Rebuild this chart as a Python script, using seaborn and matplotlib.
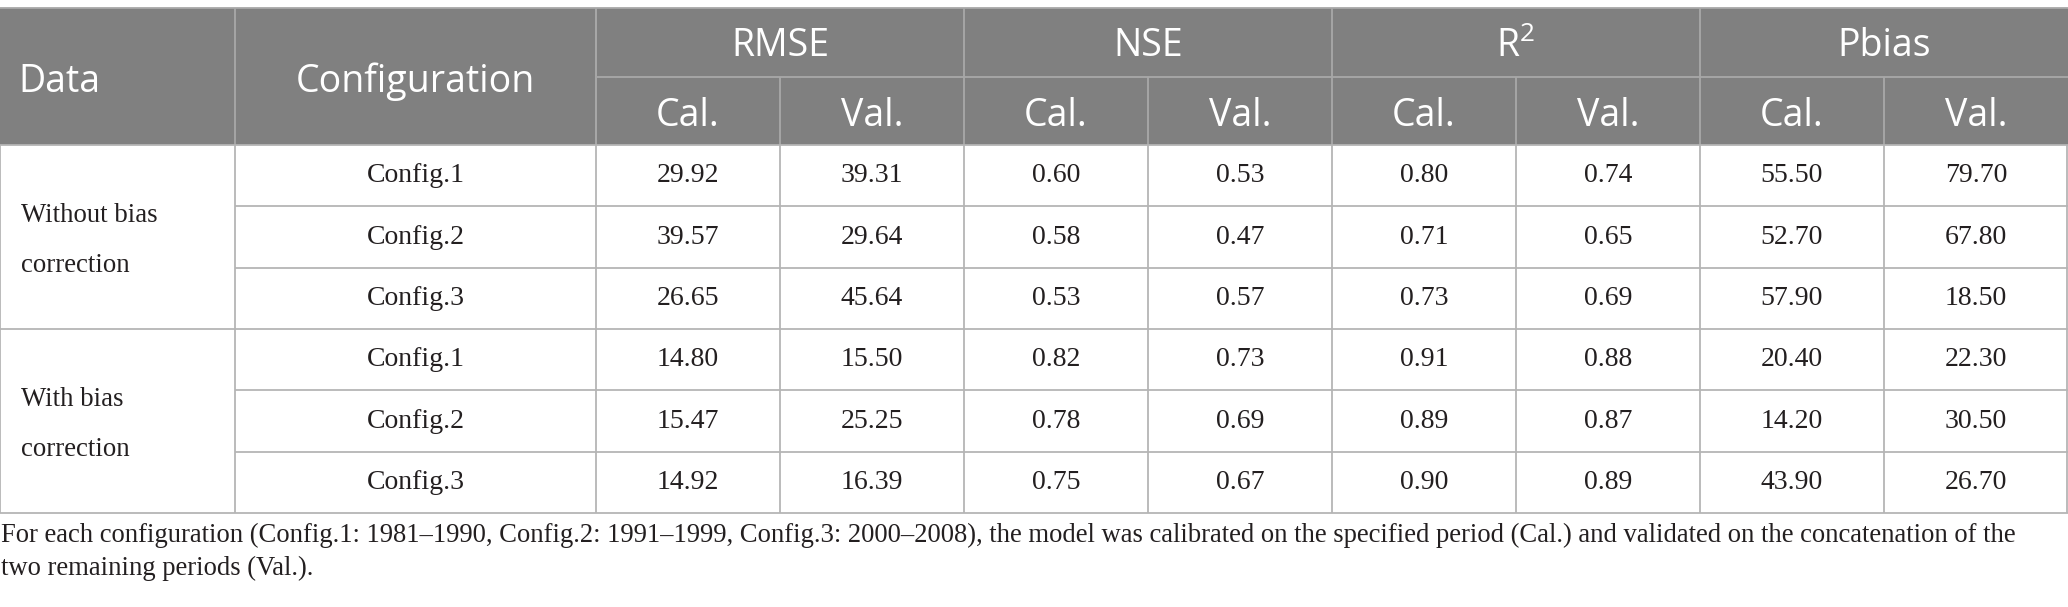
import matplotlib
matplotlib.use('Agg')
import matplotlib.pyplot as plt
from matplotlib.colors import ListedColormap
from matplotlib.patches import Rectangle
import seaborn as sns
import pandas as pd
import numpy as np

# table content
data_groups = ['Without bias\ncorrection', 'With bias\ncorrection']
configs = ['Config.1', 'Config.2', 'Config.3']
metrics = ['RMSE', 'NSE', 'R$^{\\mathrm{2}}$', 'Pbias']
periods = ['Cal.', 'Val.']

rmse_cal = [29.92, 39.57, 26.65, 14.80, 15.47, 14.92]
rmse_val = [39.31, 29.64, 45.64, 15.50, 25.25, 16.39]
nse_cal = [0.60, 0.58, 0.53, 0.82, 0.78, 0.75]
nse_val = [0.53, 0.47, 0.57, 0.73, 0.69, 0.67]
r2_cal = [0.80, 0.71, 0.73, 0.91, 0.89, 0.90]
r2_val = [0.74, 0.65, 0.69, 0.88, 0.87, 0.89]
pbias_cal = [55.50, 52.70, 57.90, 20.40, 14.20, 43.90]
pbias_val = [79.70, 67.80, 18.50, 22.30, 30.50, 26.70]

caption = ('For each configuration (Config.1: 1981\u20131990, Config.2: 1991\u20131999, '
           'Config.3: 2000\u20132008), the model was calibrated on the specified period (Cal.) '
           'and validated on the concatenation of the\ntwo remaining periods (Val.).')


def set_style():
    sns.set_theme(style='white')
    plt.rcParams.update({
        'mathtext.fontset': 'custom',
        'mathtext.rm': 'Open Sans',
        'mathtext.it': 'Open Sans',
    })


set_style()

cols = pd.MultiIndex.from_product([[0, 1, 2, 3], periods])
df = pd.DataFrame(np.column_stack([rmse_cal, rmse_val, nse_cal, nse_val,
                                   r2_cal, r2_val, pbias_cal, pbias_val]),
                  columns=cols)
annot = df.map(lambda v: '%.2f' % v).values

# layout (pixels)
W, H = 2068, 607
x_conf, x_metric = 235, 596
metric_w = (W - x_metric) / 8
y_top, y_mid, y_head = 8, 77, 145
row_h = (513 - y_head) / 6
y_bot = y_head + 6 * row_h

head_bg = '#808080'
head_line = '#a8a8a8'
body_line = '#b5b5b5'
ink = '#231f20'
serif = 'Liberation Serif'
sans = 'Open Sans'

fig = plt.figure(figsize=(W / 100, H / 100), dpi=100)

# numeric block through seaborn heatmap
hm = fig.add_axes([x_metric / W, 1 - y_bot / H, 8 * metric_w / W, 6 * row_h / H])
sns.heatmap(np.zeros(df.shape), ax=hm, cmap=ListedColormap(['white']), cbar=False,
            annot=annot, fmt='', linewidths=0, xticklabels=False, yticklabels=False,
            annot_kws={'family': serif, 'size': 20, 'color': ink})

ax = fig.add_axes([0, 0, 1, 1])
ax.set_zorder(2)
ax.patch.set_alpha(0)
ax.set_xlim(0, W)
ax.set_ylim(H, 0)
ax.axis('off')

lw = 1.3
def hline(y, x0, x1, c):
    ax.plot([x0, x1], [y, y], color=c, lw=lw, solid_capstyle='butt')

def vline(x, y0, y1, c):
    ax.plot([x, x], [y0, y1], color=c, lw=lw, solid_capstyle='butt')

# header
ax.add_patch(Rectangle((0, y_top), W, y_head - y_top, fc=head_bg, ec='none'))
hline(y_top, 0, W, head_line)
hline(y_mid, x_metric, W, head_line)
for x in [x_conf, x_metric]:
    vline(x, y_top, y_head, head_line)
for k in range(8):
    x = x_metric + k * metric_w
    if k % 2 == 0:
        vline(x, y_top, y_head, head_line)
    else:
        vline(x, y_mid, y_head, head_line)

hkw = dict(family=sans, size=27, color='white')
ax.text(18, (y_top + y_head) / 2 + 5, 'Data', ha='left', va='center', **hkw)
ax.text((x_conf + x_metric) / 2, (y_top + y_head) / 2 + 5, 'Configuration',
        ha='center', va='center', **hkw)
for i, m in enumerate(metrics):
    ax.text(x_metric + (2 * i + 1) * metric_w, (y_top + y_mid) / 2 + 4, m,
            ha='center', va='center', **hkw)
    for j, p in enumerate(periods):
        ax.text(x_metric + (2 * i + j + 0.5) * metric_w, (y_mid + y_head) / 2 + 5, p,
                ha='center', va='center', **hkw)

# body lines
for r in range(7):
    y = y_head + r * row_h
    x0 = 0 if r % 3 == 0 else x_conf
    hline(y, x0, W, body_line)
for x in [0, x_conf] + [x_metric + k * metric_w for k in range(8)] + [W - 0.7]:
    vline(x, y_head, y_bot, body_line)

bkw = dict(family=serif, size=20, color=ink)
for g, label in enumerate(data_groups):
    yc = y_head + (3 * g + 1.5) * row_h
    for li, line in enumerate(label.split('\n')):
        ax.text(21, yc - 15 + 50 * li, line, ha='left', va='baseline',
                family=serif, size=19.3, color=ink)
    for c, conf in enumerate(configs):
        ax.text((x_conf + x_metric) / 2, y_head + (3 * g + c + 0.5) * row_h, conf,
                ha='center', va='center', **bkw)

# caption
for li, line in enumerate(caption.split('\n')):
    ax.text(1, 542 + 33 * li, line, ha='left', va='baseline',
            family=serif, size=19.2, color=ink)

fig.savefig('out.png', dpi=100)
